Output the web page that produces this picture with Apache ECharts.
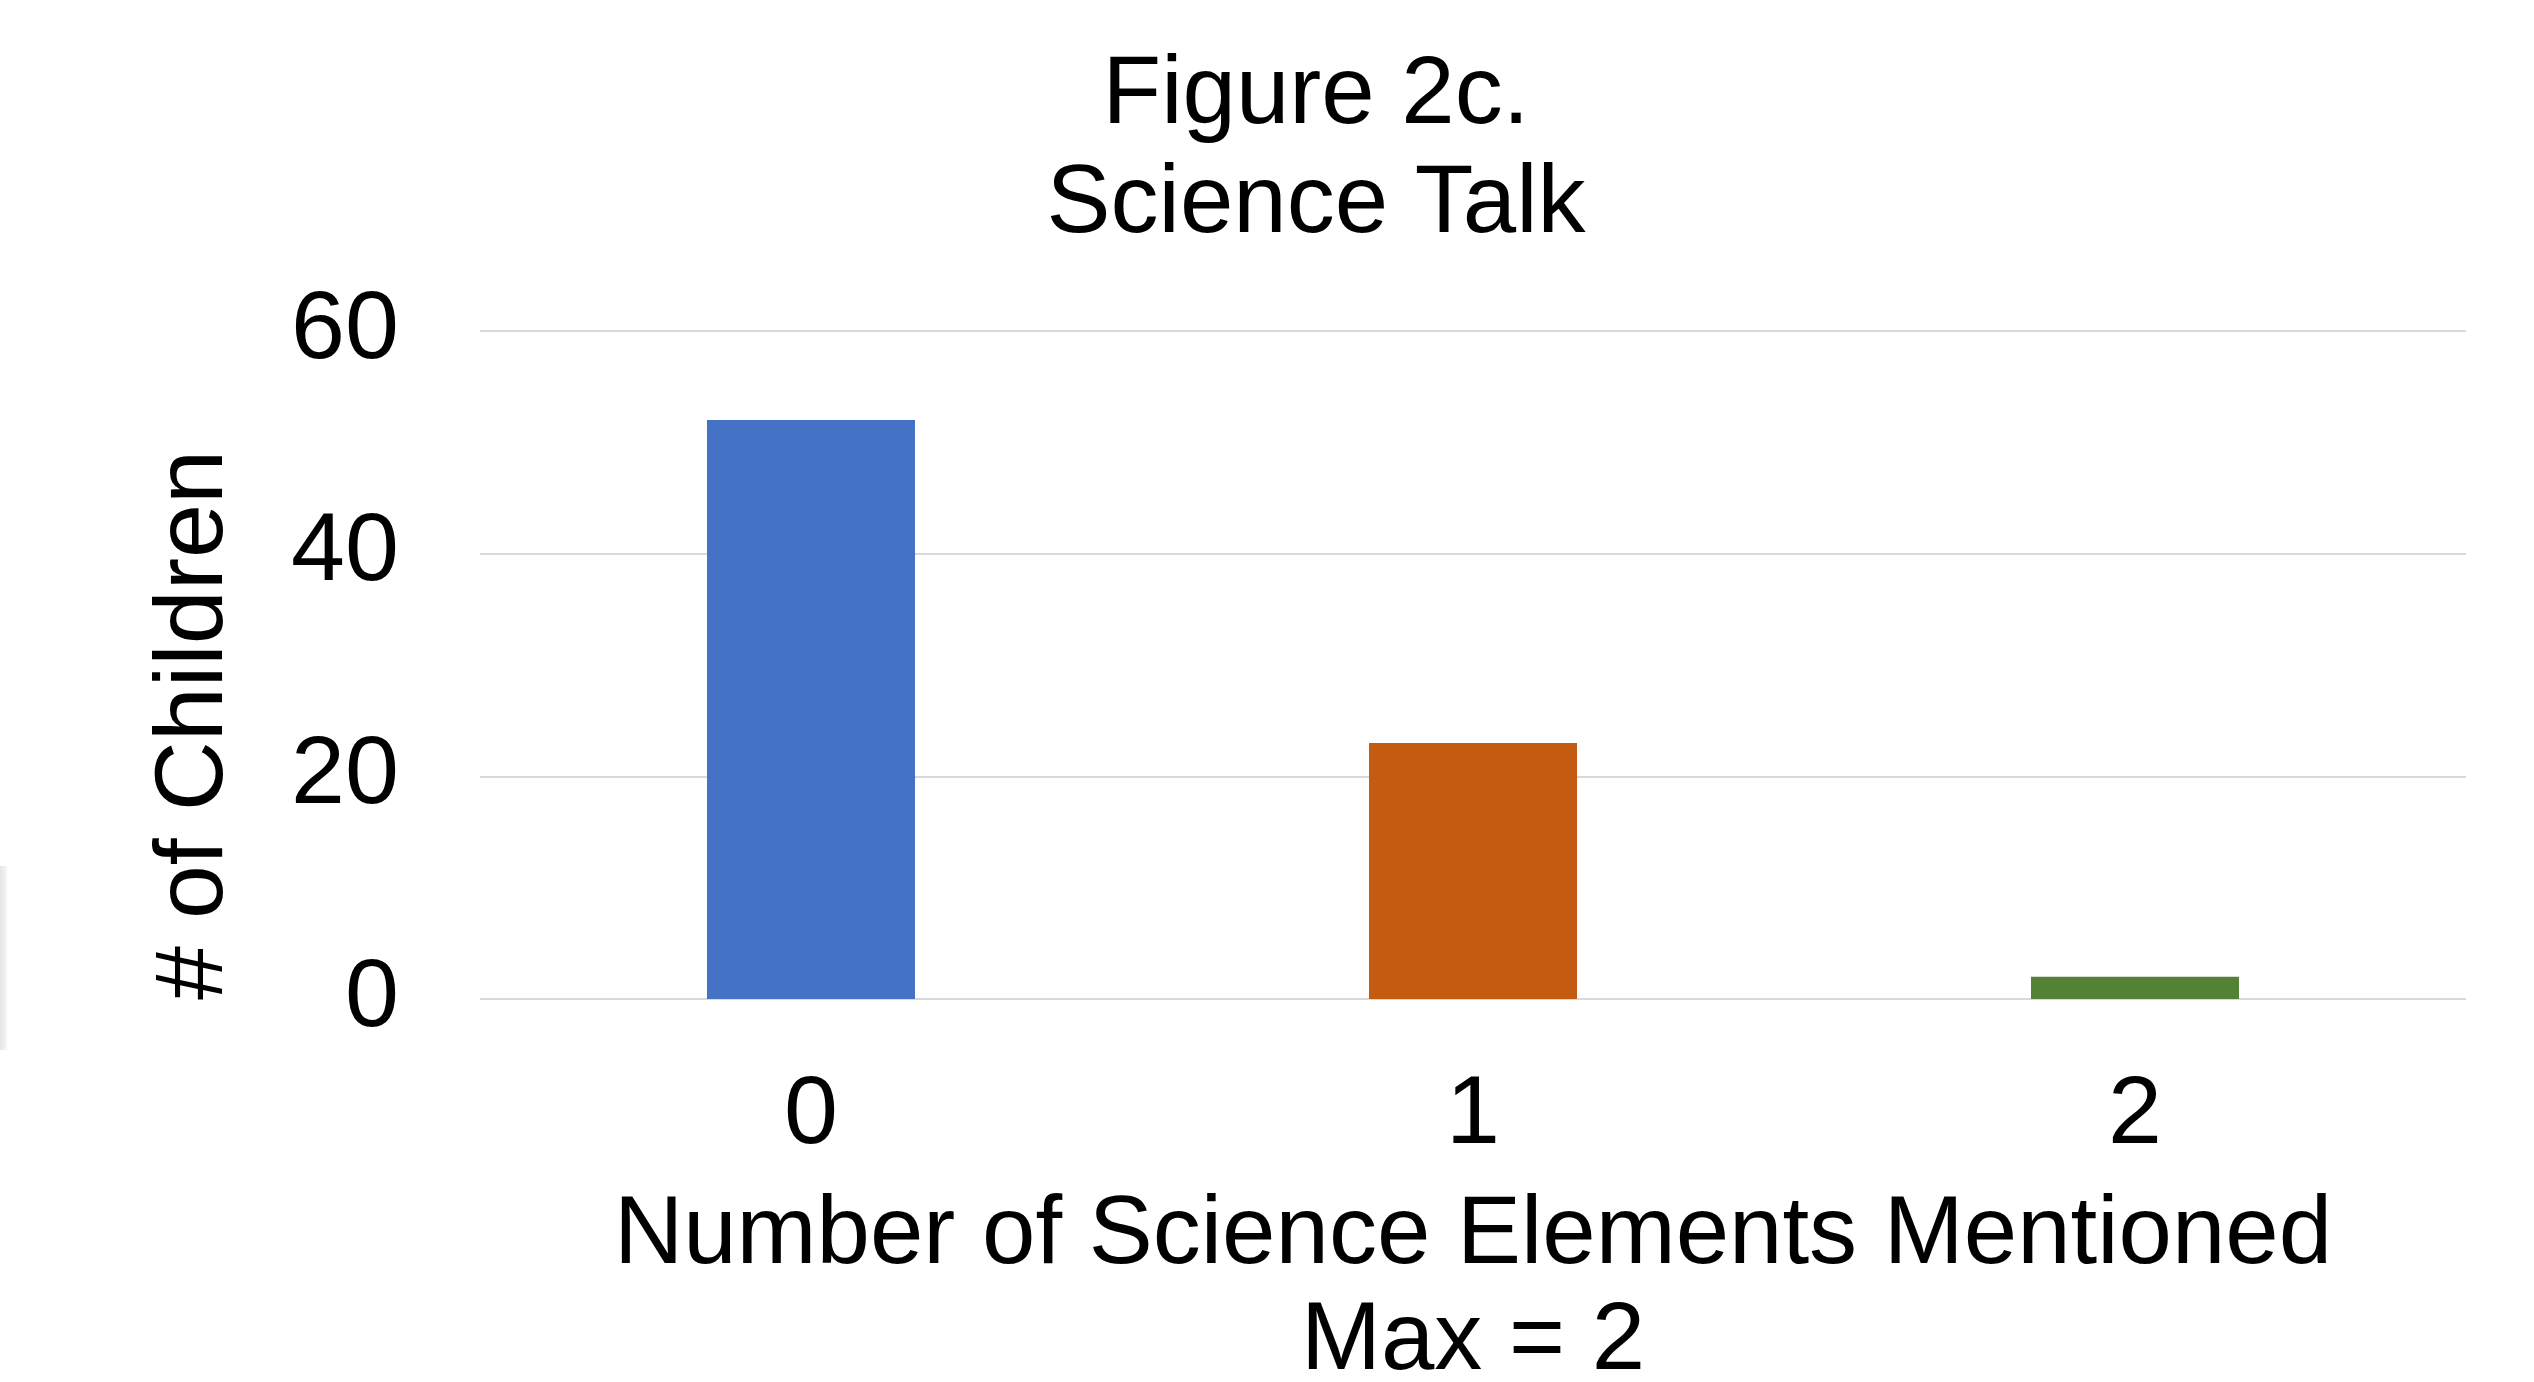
<!DOCTYPE html>
<html>
<head>
<meta charset="utf-8">
<script src="https://cdn.jsdelivr.net/npm/echarts@6/dist/echarts.min.js"></script>
<style>
html,body{margin:0;padding:0;background:#fff;}
#chart{width:2534px;height:1382px;}
</style>
</head>
<body>
<div id="chart"></div>
<script>
const categories = ['0', '1', '2'];
const counts = [52, 23, 2];
const barColors = ['#4472C4', '#C55A11', '#548235'];
const yTicks = [0, 20, 40, 60];
const titleText = 'Figure 2c.\nScience Talk';
const xName = 'Number of Science Elements Mentioned\nMax = 2';
const yName = '# of Children';

const FONT = '"Liberation Sans", Arial, sans-serif';
const FS = 97;
const chart = echarts.init(document.getElementById('chart'));
chart.setOption({
  backgroundColor: '#ffffff',
  animation: false,
  title: {
    text: titleText,
    left: 1316,
    textAlign: 'center',
    top: 42,
    padding: 0,
    textStyle: { fontFamily: FONT, fontSize: 96, fontWeight: 'normal', color: '#000', lineHeight: 109 }
  },
  graphic: [{
    type: 'rect',
    shape: { x: 0, y: 866, width: 7, height: 184 },
    style: {
      fill: new echarts.graphic.LinearGradient(0, 0, 1, 0, [
        { offset: 0, color: '#e6e6e6' },
        { offset: 1, color: '#f6f6f6' }
      ])
    },
    silent: true
  }],
  grid: { left: 480, right: 68, top: 331, bottom: 383, containLabel: false, outerBoundsMode: 'none' },
  xAxis: {
    type: 'category',
    data: categories,
    axisLine: { show: false },
    axisTick: { show: false },
    axisLabel: { fontFamily: FONT, fontSize: FS, color: '#000', margin: 69 },
    name: xName,
    nameLocation: 'middle',
    nameGap: 185,
    nameTextStyle: { fontFamily: FONT, fontSize: 96, color: '#000', lineHeight: 106 }
  },
  yAxis: {
    type: 'value',
    min: yTicks[0],
    max: yTicks[yTicks.length - 1],
    interval: yTicks[1] - yTicks[0],
    axisLine: { show: false },
    axisTick: { show: false },
    splitLine: { lineStyle: { color: '#d9d9d9', width: 2 } },
    axisLabel: { fontFamily: FONT, fontSize: FS, color: '#000', margin: 81, padding: [8, 0, 0, 0] },
    name: yName,
    nameLocation: 'middle',
    nameGap: 236,
    nameTextStyle: { fontFamily: FONT, fontSize: FS, color: '#000', padding: [0, 120, 0, 0] }
  },
  series: [{
    type: 'bar',
    barWidth: 208,
    data: counts.map((v, i) => ({ value: v, itemStyle: { color: barColors[i] } }))
  }]
});
</script>
</body>
</html>
